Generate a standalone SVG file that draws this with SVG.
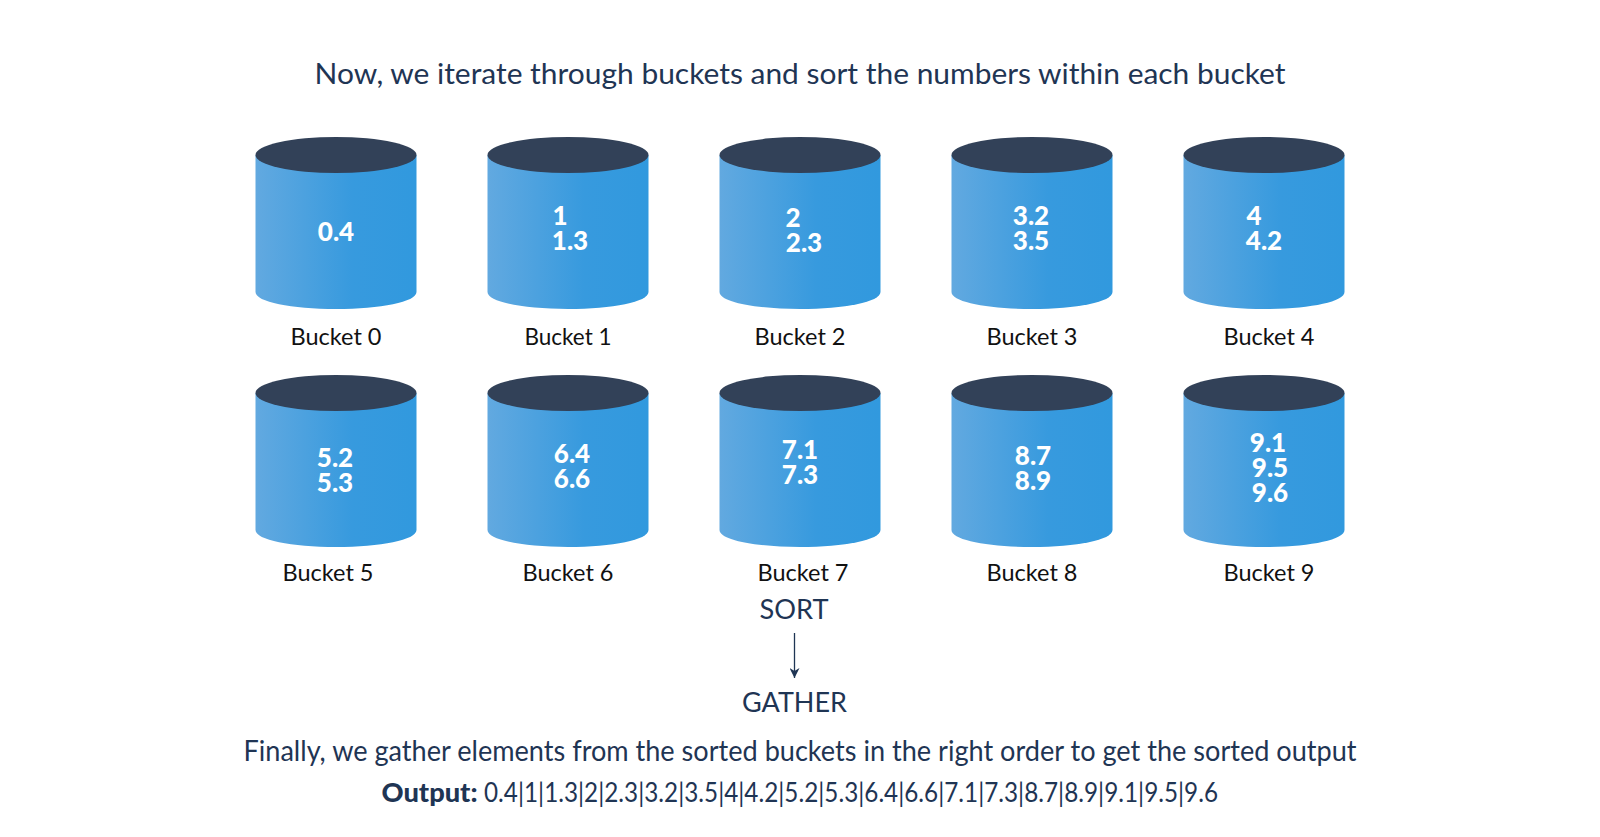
<svg xmlns="http://www.w3.org/2000/svg" xmlns:xlink="http://www.w3.org/1999/xlink" width="1600" height="837" viewBox="0 0 1600 837">
<style>
text{font-family:"Lato","Liberation Sans",sans-serif}
.h{font-size:29px;fill:#1f3554;text-anchor:middle}
.t{font-size:27px;fill:#1f3554;text-anchor:middle}
.o{font-size:27px;fill:#1f3554}
.l{font-size:23.500px;fill:#111;text-anchor:middle}
.v{font-size:26px;font-weight:900;fill:#fff;text-anchor:middle}
.top{fill:#324158}
.body{fill:url(#g)}
</style>
<defs>
<linearGradient id="g" x1="0" x2="1" y1="0" y2="0"><stop offset="0" stop-color="#62a9e0"/><stop offset=".6" stop-color="#379ade"/><stop offset="1" stop-color="#3199de"/></linearGradient>
<g id="cyl"><path class="body" d="M0 18V155C0 165 36 172 80.500 172S161 165 161 155V18Z"/><ellipse class="top" cx="80.500" cy="18" rx="80.500" ry="18"/></g>
<marker id="a" markerUnits="userSpaceOnUse" markerWidth="10" markerHeight="10" refX="10" refY="5" orient="auto" viewBox="0 0 10 10"><path d="M10 5L0 0L3 5L0 10Z" fill="#1f3554"/></marker>
</defs>
<text class="h" x="800" y="84" textLength="971" lengthAdjust="spacingAndGlyphs">Now, we iterate through buckets and sort the numbers within each bucket</text>
<g id="b0"><use xlink:href="#cyl" x="255.500" y="137"/><text class="v" x="336" y="241">0.4</text><text class="l" x="336" y="345">Bucket 0</text></g>
<g id="b1"><use xlink:href="#cyl" x="487.500" y="137"/><text class="v" y="225"><tspan x="560">1</tspan><tspan x="570" dy="25">1.3</tspan></text><text class="l" x="568" y="345" textLength="87" lengthAdjust="spacingAndGlyphs">Bucket 1</text></g>
<g id="b2"><use xlink:href="#cyl" x="719.500" y="137"/><text class="v" y="227"><tspan x="793">2</tspan><tspan x="804" dy="25">2.3</tspan></text><text class="l" x="800" y="345">Bucket 2</text></g>
<g id="b3"><use xlink:href="#cyl" x="951.500" y="137"/><text class="v" y="225"><tspan x="1031">3.2</tspan><tspan x="1031" dy="25">3.5</tspan></text><text class="l" x="1032" y="345">Bucket 3</text></g>
<g id="b4"><use xlink:href="#cyl" x="1183.500" y="137"/><text class="v" y="225"><tspan x="1254">4</tspan><tspan x="1264" dy="25">4.2</tspan></text><text class="l" x="1269" y="345">Bucket 4</text></g>
<g id="b5"><use xlink:href="#cyl" x="255.500" y="375"/><text class="v" y="467"><tspan x="335">5.2</tspan><tspan x="335" dy="25">5.3</tspan></text><text class="l" x="328" y="581">Bucket 5</text></g>
<g id="b6"><use xlink:href="#cyl" x="487.500" y="375"/><text class="v" y="463"><tspan x="572">6.4</tspan><tspan x="572" dy="25">6.6</tspan></text><text class="l" x="568" y="581">Bucket 6</text></g>
<g id="b7"><use xlink:href="#cyl" x="719.500" y="375"/><text class="v" y="459"><tspan x="800">7.1</tspan><tspan x="800" dy="25">7.3</tspan></text><text class="l" x="803" y="581">Bucket 7</text></g>
<g id="b8"><use xlink:href="#cyl" x="951.500" y="375"/><text class="v" y="465"><tspan x="1033">8.7</tspan><tspan x="1033" dy="25">8.9</tspan></text><text class="l" x="1032" y="581">Bucket 8</text></g>
<g id="b9"><use xlink:href="#cyl" x="1183.500" y="375"/><text class="v" y="452"><tspan x="1268">9.1</tspan><tspan x="1270" dy="25">9.5</tspan><tspan x="1270" dy="25">9.6</tspan></text><text class="l" x="1269" y="581">Bucket 9</text></g>
<g id="connectors"><path d="M794.500 633V678" stroke="#1f3554" stroke-width="1.300" fill="none" marker-end="url(#a)"/></g>
<g id="sort"><text class="t" x="794" y="619" textLength="69" lengthAdjust="spacingAndGlyphs">SORT</text></g>
<g id="gather"><text class="t" x="794.500" y="712" textLength="105" lengthAdjust="spacingAndGlyphs">GATHER</text></g>
<text class="h" x="800" y="761" textLength="1113" lengthAdjust="spacingAndGlyphs">Finally, we gather elements from the sorted buckets in the right order to get the sorted output</text>
<text class="o" y="802"><tspan x="381.500" font-weight="900" textLength="96" lengthAdjust="spacingAndGlyphs">Output:</tspan><tspan x="484" textLength="734" lengthAdjust="spacingAndGlyphs">0.4|1|1.3|2|2.3|3.2|3.5|4|4.2|5.2|5.3|6.4|6.6|7.1|7.3|8.7|8.9|9.1|9.5|9.6</tspan></text>
</svg>
